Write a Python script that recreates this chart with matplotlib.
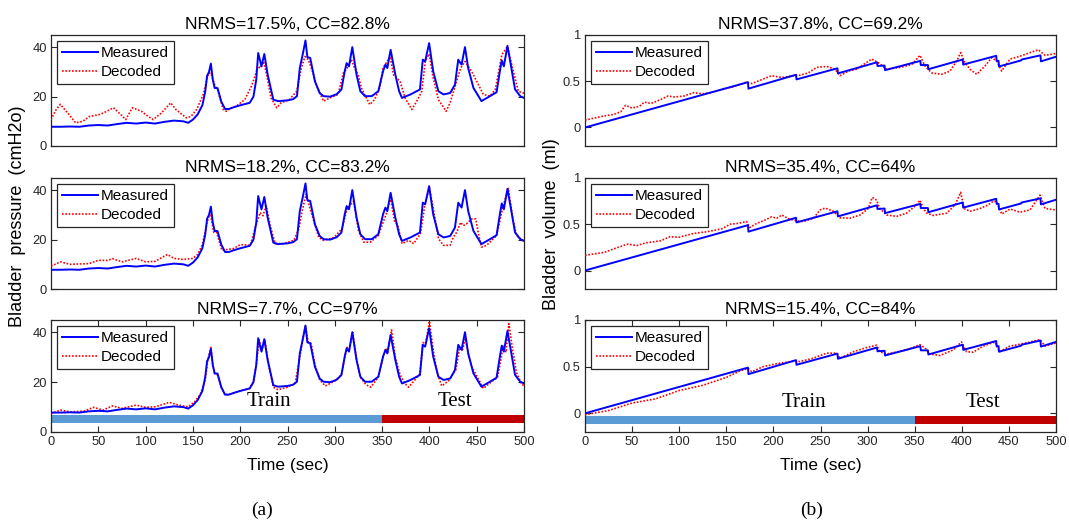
import matplotlib
matplotlib.use("Agg")
import matplotlib.pyplot as plt

# ---------------- data ----------------
# Measured bladder pressure (cmH2O)
p_meas_t = [0, 10, 20, 30, 40, 50, 60, 70, 80, 90, 100, 110, 120, 130, 140, 145, 150, 155, 160, 163,
            165, 167, 169, 171, 173, 176, 180, 184, 188, 193, 200, 210, 214, 217, 219, 222.5, 225.5, 229,
            235, 240, 250, 256, 260, 263, 266, 269, 271, 274, 279, 284, 288, 295, 302, 307, 310.5, 312.5,
            315, 318.5, 323, 327, 332, 339, 346, 351, 353.5, 355.5, 359, 364, 368, 371, 380, 390, 393,
            395.5, 399.7, 404, 409.5, 415, 422, 427, 430.5, 434, 437.6, 441, 446.5, 455, 464, 471, 474.5,
            476.5, 478.7, 482.5, 486, 490.5, 496, 500]
p_meas_v = [7.8, 7.8, 7.9, 7.8, 8.3, 8.5, 8.3, 8.9, 9.4, 9.1, 9.5, 9.1, 9.8, 10.3, 10.0, 9.4, 10.7, 12.8, 16.5, 22,
            28.5, 30, 33.4, 27, 23.5, 23.5, 18, 15, 15, 15.7, 16.5, 17.5, 20, 27, 37.7, 32.3, 37.3, 29,
            18.8, 18.2, 18.5, 19, 20.2, 31.6, 37, 42.8, 36, 35.7, 26.2, 21.5, 20.2, 20, 21, 22.9, 30.3, 33.6,
            32.3, 40.1, 28.9, 22.2, 20.2, 20.2, 22.2, 30.3, 33, 31.6, 39, 28.9, 22.2, 19.5, 20.9, 22.9, 35,
            34.3, 41.7, 30.3, 22.2, 20.9, 21.5, 24.9, 35, 33, 40.1, 31.6, 23.6, 18.2, 20.2, 21.8, 30.3,
            34.7, 32.3, 40.6, 33, 23, 20.2, 19.5]

# Decoded pressure, panel 1
p_dec1_t = [0, 5, 9.8, 14, 19, 26, 33.5, 40.8, 51.7, 59, 66, 73.6, 79, 86, 95.5, 102.8, 108, 117, 126.5,
            132, 143, 148, 154, 161, 166.5, 169, 173.4, 176, 182, 185.4, 190.8, 196, 204.8, 211.8, 215,
            218.7, 221.5, 224.7, 228, 232.6, 238.6, 243.2, 252, 259.7, 264.6, 268.5, 272, 277, 281, 288,
            295, 303.5, 309, 313, 317.6, 321, 324.7, 328, 337, 342, 347.5, 351, 358.5, 362, 369, 374.3,
            381.4, 386.7, 392, 395.6, 399.7, 404, 409.5, 417.7, 421.8, 428.8, 433, 437.6, 444.6, 450, 457,
            464, 469.6, 476.6, 482.5, 487, 494, 498.7, 500]
p_dec1_v = [10.7, 14.5, 16.9, 15, 12.8, 9.4, 10, 12, 12.8, 14.1, 15.5, 12.8, 10.7, 15.5, 14.1, 12, 10.7, 13.5,
            17.5, 14.8, 11.4, 12, 14.8, 21, 29.5, 29.6, 24.2, 23, 14.8, 14.1, 15.5, 16.2, 18.8, 24.2, 27.6,
            32.3, 31.6, 34.3, 28.9, 19.5, 15.5, 17.5, 18.8, 22.2, 31.6, 36.3, 35, 29.6, 24.2, 18.2,
            19.5, 20.9, 29.6, 31.6, 35, 31.6, 28.9, 23.6, 16.8, 18.8, 23.6, 31.6, 36.3, 28.9, 26.2, 19.5,
            14.8, 18.2, 22.2, 34.3, 37.3, 27.6, 18.8, 14.1, 17.5, 26.2, 31.6, 34.3, 30.3, 26.2, 20.9,
            20.2, 22.9, 37, 40.4, 33, 22.2, 21.5, 21.5]

# Decoded pressure, panel 2
p_dec2_t = [0, 10, 20, 40, 50, 60, 65, 75, 90, 100, 110, 123, 130, 140, 150, 155, 160, 166.3, 168.8, 172,
            175, 180.6, 193, 200, 210.7, 216, 221, 224, 227.5, 231.7, 237, 246, 256.6, 262, 265.5, 269.7,
            273, 277.7, 283, 288, 298.8, 307.6, 312.8, 319.9, 325, 330.6, 337.6, 346, 351.7, 355, 358.9,
            363, 366.6, 371, 378, 383.4, 390.5, 395.6, 400, 403.6, 409.6, 414.8, 421.8, 425.3, 428.8, 433,
            435.8, 439.3, 444.6, 449, 451.5, 455, 460.5, 471, 478, 483.4, 488, 492, 498.8, 500]
p_dec2_v = [9.3, 11, 10, 10.3, 11.6, 11.6, 12.3, 11, 12.4, 11, 11.2, 14, 12.4, 12, 12.4, 14, 18, 29, 30, 23,
            23, 15.7, 16.4, 18, 17.7, 25, 31, 29.7, 33.7, 25.7, 18.4, 18.4, 19.7, 24.4, 31.7, 38.4,
            33.7, 27.7, 21, 19.7, 20.8, 24.4, 32.4, 35.7, 23.7, 19, 19, 21.7, 27.7, 31, 37,
            27.7, 25.7, 18.4, 19.7, 18.4, 22.4, 35, 41, 33.7, 20.4, 17.7, 17.7, 21, 23, 27,
            25.7, 26.4, 28.4, 28.4, 23, 17, 17.7, 21.7, 33.7, 40.8, 29, 21.7, 19.7, 19.5]

# Decoded pressure, panel 3
p_dec3_t = [0, 10, 20, 35, 45, 55, 65, 75, 90, 100, 110, 125, 135, 145, 152, 158, 163, 166, 169, 171, 173,
            176, 180, 184, 193, 200, 210, 214, 217, 220, 223, 226, 230, 235, 240, 250, 258, 263, 266, 269,
            272, 275, 279, 284, 290, 300, 307, 311, 313, 315, 319, 323, 327, 333, 338, 346, 351, 354, 356,
            360, 364, 366, 369, 374, 378, 386, 390, 393, 396, 400, 404, 408, 413, 420, 428, 432, 435, 438,
            442, 445, 448, 457, 465, 472, 476, 478, 481, 484, 488, 492, 497, 500]
p_dec3_v = [7.4, 8.8, 8.1, 8.4, 9.9, 8.8, 10.5, 9.5, 10.8, 9.9, 10.1, 11.9, 10.8, 10.1, 12.2, 15.2, 21, 29.5,
            34, 27, 23.5, 23, 18, 15, 15.5, 16.5, 17.5, 20.5, 27, 37, 33, 37, 27, 18, 17, 18, 19.5, 30,
            37, 42.5, 36, 35.5, 27, 21, 18.5, 20.5, 23, 31, 34, 32.5, 40, 29, 22, 19, 18, 22, 30, 33.5,
            32, 41, 30, 27, 23, 19.5, 18, 21.5, 23.5, 36, 35.5, 44.5, 33, 24, 18.5, 20.5, 25, 34, 33,
            37.5, 30, 26, 24, 17.5, 20, 22, 30, 34.5, 32, 43.5, 33, 24, 19.5, 18.5]

# Measured bladder volume (ml)
v_meas_t = [0, 173, 173.5, 224, 224.5, 268, 268.5, 310, 310.5, 318, 318.5, 356, 356.5, 364, 364.5, 401,
            401.5, 436.5, 437, 439, 439.5, 463, 463.5, 483.5, 484, 500]
v_meas_v = [0.0, 0.49, 0.42, 0.57, 0.52, 0.64, 0.585, 0.705, 0.665, 0.67, 0.62, 0.72, 0.675, 0.675, 0.63,
            0.735, 0.68, 0.775, 0.72, 0.72, 0.66, 0.725, 0.735, 0.78, 0.715, 0.765]

# Decoded volume, panel 1
v_dec1_t = [0, 20, 30, 38, 43, 50, 58, 63, 70, 80, 88, 95, 105, 115, 125, 135, 145, 157.5, 171, 177,
            185.8, 198, 209, 221, 228, 237, 246, 256.6, 265.4, 270.7, 279.5, 288.4, 295.5, 304.4, 311.4,
            320.2, 334.4, 346.8, 355.6, 360.9, 368, 378.6, 387.5, 394.6, 398.8, 403.4, 408.7, 415.8,
            424.6, 431.7, 437, 442.3, 451.2, 461.8, 472.4, 481.3, 488.4, 500]
v_dec1_v = [0.08, 0.125, 0.14, 0.17, 0.24, 0.21, 0.23, 0.275, 0.26, 0.30, 0.34, 0.33, 0.34, 0.375, 0.365,
            0.38, 0.41, 0.44, 0.49, 0.475, 0.51, 0.56, 0.54, 0.56, 0.565, 0.59, 0.65, 0.66, 0.63, 0.56,
            0.61, 0.63, 0.68, 0.74, 0.70, 0.63, 0.65, 0.68, 0.78, 0.665, 0.59, 0.575, 0.61, 0.72, 0.81,
            0.70, 0.63, 0.575, 0.665, 0.755, 0.72, 0.61, 0.74, 0.77, 0.81, 0.84, 0.78, 0.80]

# Decoded volume, panel 2
v_dec2_t = [0, 20, 35, 45, 55, 65, 80, 90, 100, 115, 130, 145, 154, 162.7, 171.6, 175, 182.3, 189, 198,
            203.5, 209, 216, 225, 232, 242.6, 249.6, 255, 263.6, 270.7, 281.3, 292, 300.6, 305, 309.6,
            313, 320.2, 330.8, 341.4, 352, 355.6, 359.2, 362.7, 369.8, 384, 393, 398.8, 402.4, 408.8,
            419.4, 428.2, 433.5, 437, 442.3, 451.2, 461.8, 472.4, 483, 488.4, 500]
v_dec2_v = [0.165, 0.195, 0.25, 0.285, 0.27, 0.30, 0.32, 0.365, 0.36, 0.40, 0.42, 0.45, 0.50, 0.51, 0.53,
            0.465, 0.51, 0.535, 0.58, 0.565, 0.60, 0.56, 0.535, 0.53, 0.565, 0.655, 0.675, 0.64, 0.57,
            0.565, 0.60, 0.67, 0.79, 0.76, 0.67, 0.60, 0.585, 0.62, 0.71, 0.76, 0.67, 0.62, 0.595, 0.62,
            0.71, 0.845, 0.67, 0.64, 0.67, 0.71, 0.75, 0.745, 0.61, 0.665, 0.63, 0.655, 0.815, 0.67, 0.655]

# Decoded volume, panel 3
v_dec3_t = [0, 25, 50, 75, 100, 125, 150, 165, 173.4, 177, 189, 205, 222.6, 228, 242, 256.6, 267, 270.7,
            285, 299, 309.6, 313, 320, 341.4, 355.6, 361, 366, 377, 391, 399.6, 405, 412, 422.7, 435,
            440, 451, 469, 483, 488.4, 500]
v_dec3_v = [-0.015, 0.03, 0.11, 0.155, 0.245, 0.30, 0.385, 0.457, 0.48, 0.445, 0.50, 0.535, 0.56, 0.555,
            0.59, 0.645, 0.645, 0.59, 0.66, 0.705, 0.73, 0.66, 0.635, 0.68, 0.735, 0.70, 0.635, 0.62, 0.68,
            0.765, 0.66, 0.655, 0.72, 0.765, 0.66, 0.72, 0.755, 0.79, 0.72, 0.755]

p_titles = ["NRMS=17.5%, CC=82.8%", "NRMS=18.2%, CC=83.2%", "NRMS=7.7%, CC=97%"]
v_titles = ["NRMS=37.8%, CC=69.2%", "NRMS=35.4%, CC=64%", "NRMS=15.4%, CC=84%"]
x_ticks = [0, 50, 100, 150, 200, 250, 300, 350, 400, 450, 500]
p_ticks = [0, 20, 40]
v_ticks = [0, 0.5, 1]
v_ticklabels = ["0", "0.5", "1"]
phase_names = ["Train", "Test"]
phase_start = [0, 350]
phase_end = [350, 500]
phase_colors = ["#5B9BD5", "#C00000"]

# ---------------- figure ----------------
plt.rcParams['font.family'] = ['Liberation Sans', 'DejaVu Sans']
W, H = 1069, 522
fig = plt.figure(figsize=(W / 100, H / 100), dpi=100)

rows = [(35, 146), (178, 289), (320, 432)]
cols = [(51, 524), (585, 1056)]

def make_ax(c, r):
    x0, x1 = cols[c]
    y0, y1 = rows[r]
    return fig.add_axes([x0 / W, 1 - y1 / H, (x1 - x0) / W, (y1 - y0) / H])

meas_kw = dict(color=(0, 0, 1), lw=1.4, label="Measured", zorder=4)
dec_kw = dict(color=(1, 0, 0), lw=1.2, ls=(0, (1, 1)), label="Decoded", zorder=3)

def style(ax, bottom):
    ax.set_xlim(0, 500)
    ax.tick_params(direction='in', length=4, width=0.8, labelsize=9.3, colors='#262626',
                   top=bottom, right=True, left=True, bottom=bottom, pad=3)
    for s in ax.spines.values():
        s.set_color('#262626')
        s.set_linewidth(0.9)
    if bottom:
        ax.set_xticks(x_ticks)
        ax.set_xlabel("Time (sec)", fontsize=12.5, labelpad=7)
    else:
        ax.set_xticks([])
    leg = ax.legend(loc='upper left', fontsize=11, frameon=True, fancybox=False, framealpha=1,
                    edgecolor='#262626', handlelength=2.3, handletextpad=0.2, borderpad=0.35,
                    labelspacing=0.3, borderaxespad=0.4)
    leg.get_frame().set_linewidth(0.9)

p_dec = [(p_dec1_t, p_dec1_v), (p_dec2_t, p_dec2_v), (p_dec3_t, p_dec3_v)]
v_dec = [(v_dec1_t, v_dec1_v), (v_dec2_t, v_dec2_v), (v_dec3_t, v_dec3_v)]

for i in range(3):
    ax = make_ax(0, i)
    ax.plot(p_meas_t, p_meas_v, **meas_kw)
    ax.plot(p_dec[i][0], p_dec[i][1], **dec_kw)
    ax.set_ylim(0, 45)
    ax.set_yticks(p_ticks)
    ax.set_title(p_titles[i], fontsize=12.5, pad=4)
    style(ax, i == 2)
    if i == 2:
        for n, s, e, c in zip(phase_names, phase_start, phase_end, phase_colors):
            ax.fill_between([s, e], 3.6, 7.0, color=c, lw=0, zorder=2)
        ax.text(230, 8.3, phase_names[0], fontsize=15, family='Liberation Serif', ha='center', va='bottom')
        ax.text(427, 8.3, phase_names[1], fontsize=15, family='Liberation Serif', ha='center', va='bottom')

for i in range(3):
    ax = make_ax(1, i)
    ax.plot(v_meas_t, v_meas_v, **meas_kw)
    ax.plot(v_dec[i][0], v_dec[i][1], **dec_kw)
    ax.set_ylim(-0.2, 1)
    ax.set_yticks(v_ticks)
    ax.set_yticklabels(v_ticklabels)
    ax.set_title(v_titles[i], fontsize=12.5, pad=4)
    style(ax, i == 2)
    if i == 2:
        for n, s, e, c in zip(phase_names, phase_start, phase_end, phase_colors):
            ax.fill_between([s, e], -0.11, -0.025, color=c, lw=0, zorder=2)
        ax.text(232, 0.01, phase_names[0], fontsize=15, family='Liberation Serif', ha='center', va='bottom')
        ax.text(422, 0.01, phase_names[1], fontsize=15, family='Liberation Serif', ha='center', va='bottom')

fig.text(18 / W, 1 - 216 / H, "Bladder  pressure  (cmH2o)", rotation=90, fontsize=13,
         ha='center', va='center')
fig.text(551 / W, 1 - 224 / H, "Bladder  volume  (ml)", rotation=90, fontsize=13,
         ha='center', va='center')
fig.text(262 / W, 1 - 510 / H, "(a)", fontsize=14, family='Liberation Serif', ha='center', va='center')
fig.text(812 / W, 1 - 510 / H, "(b)", fontsize=14, family='Liberation Serif', ha='center', va='center')

fig.savefig("out.png", dpi=100, facecolor='white')
